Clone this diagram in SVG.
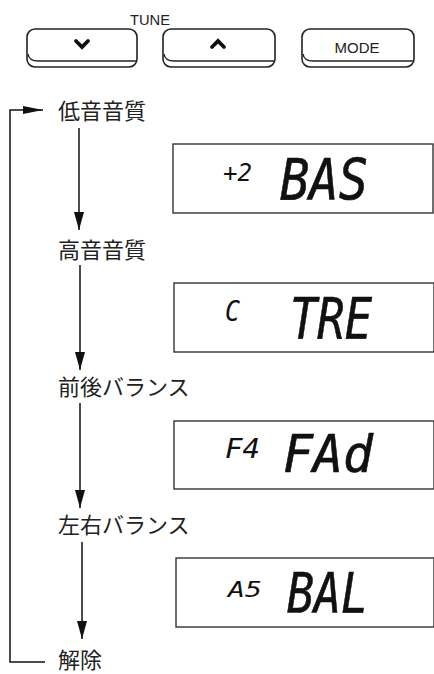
<svg xmlns="http://www.w3.org/2000/svg" width="434" height="674" viewBox="0 0 434 674">
<style>
.btn{fill:#fff;stroke:#222;stroke-width:1.6}
.lip{fill:none;stroke:#222;stroke-width:1.4}
.chev{fill:none;stroke:#111;stroke-width:3.8;stroke-linecap:round;stroke-linejoin:miter}
.lbl{font-family:"Noto Sans CJK JP","Noto Sans CJK SC",sans-serif;font-size:22px;fill:#222}
.btxt{font-family:"Liberation Sans",Arial,sans-serif;fill:#222}
.lcd{fill:#fff;stroke:#333;stroke-width:1.4}
.big{font-family:"DejaVu Sans Mono",monospace;font-weight:normal;font-style:italic;fill:#111;stroke:#111;stroke-width:0.6}
.small{font-family:"DejaVu Sans Mono",monospace;font-style:italic;fill:#111}
.con{fill:none;stroke:#111;stroke-width:1.5}
</style>
<defs>
<marker id="ah" viewBox="0 0 18 10" refX="18" refY="5" markerWidth="18" markerHeight="10" markerUnits="userSpaceOnUse" orient="auto">
<path d="M0,0 L18,5 L0,10 Z" fill="#111"/>
</marker>
<marker id="ahh" viewBox="0 0 20 8" refX="20" refY="4" markerWidth="20" markerHeight="8" markerUnits="userSpaceOnUse" orient="auto">
<path d="M0,0 L20,4 L0,8 Z" fill="#111"/>
</marker>
</defs>
<rect width="434" height="674" fill="#fff"/>

<g id="tune-label">
<text class="btxt" x="130" y="25" font-size="15" textLength="40" lengthAdjust="spacingAndGlyphs">TUNE</text>
</g>
<g id="btn-down">
<rect class="btn" x="27" y="29" width="110" height="38" rx="8"/>
<path class="lip" d="M28,54 Q29,61 38,61 L136,61"/>
<path class="chev" d="M76,41 L82,47 L88,41"/>
</g>
<g id="btn-up">
<rect class="btn" x="163" y="29" width="112" height="38" rx="8"/>
<path class="lip" d="M164,54 Q165,61 174,61 L274,61"/>
<path class="chev" d="M212,47 L218,41 L224,47"/>
</g>
<g id="btn-mode">
<rect class="btn" x="302" y="29" width="112" height="38" rx="8"/>
<path class="lip" d="M303,54 Q304,61 313,61 L413,61"/>
<text class="btxt" x="357" y="53" font-size="15" text-anchor="middle">MODE</text>
</g>

<g id="connectors">
<path class="con" d="M45,662 H10 V110 H43" marker-end="url(#ahh)"/>
<line class="con" x1="79" y1="128" x2="79" y2="230" marker-end="url(#ah)"/>
<line class="con" x1="80" y1="265" x2="80" y2="370" marker-end="url(#ah)"/>
<line class="con" x1="80" y1="403" x2="80" y2="508" stroke-width="2" marker-end="url(#ah)"/>
<line class="con" x1="82" y1="542" x2="82" y2="639" stroke-width="2" marker-end="url(#ah)"/>
</g>

<g id="bass">
<text class="lbl" x="58" y="119">低音音質</text>
</g>
<g id="treble">
<text class="lbl" x="58" y="258">高音音質</text>
</g>
<g id="fader">
<text class="lbl" x="58" y="395">前後バランス</text>
</g>
<g id="balance">
<text class="lbl" x="58" y="533">左右バランス</text>
</g>
<g id="cancel">
<text class="lbl" x="58" y="668">解除</text>
</g>

<g id="lcd-bas">
<rect class="lcd" x="173" y="144" width="260" height="69"/>
<text class="small" x="223" y="181" font-size="24" textLength="29" lengthAdjust="spacingAndGlyphs">+2</text>
<text class="big" x="280" y="200" font-size="57" textLength="88" lengthAdjust="spacingAndGlyphs">BAS</text>
</g>
<g id="lcd-tre">
<rect class="lcd" x="174" y="283" width="260" height="69"/>
<text class="small" x="225" y="321" font-size="28" textLength="15" lengthAdjust="spacingAndGlyphs">C</text>
<text class="big" x="290" y="339" font-size="57" textLength="82" lengthAdjust="spacingAndGlyphs">TRE</text>
</g>
<g id="lcd-fad">
<rect class="lcd" x="174" y="421" width="260" height="68"/>
<text class="small" x="225" y="458" font-size="27" textLength="35" lengthAdjust="spacingAndGlyphs">F4</text>
<text class="big" x="283" y="472" font-size="51" textLength="90" lengthAdjust="spacingAndGlyphs">FAd</text>
</g>
<g id="lcd-bal">
<rect class="lcd" x="176" y="558" width="258" height="69"/>
<text class="small" x="228" y="597" font-size="22" textLength="34" lengthAdjust="spacingAndGlyphs">A5</text>
<text class="big" x="287" y="612" font-size="55" textLength="81" lengthAdjust="spacingAndGlyphs">BAL</text>
</g>
</svg>
